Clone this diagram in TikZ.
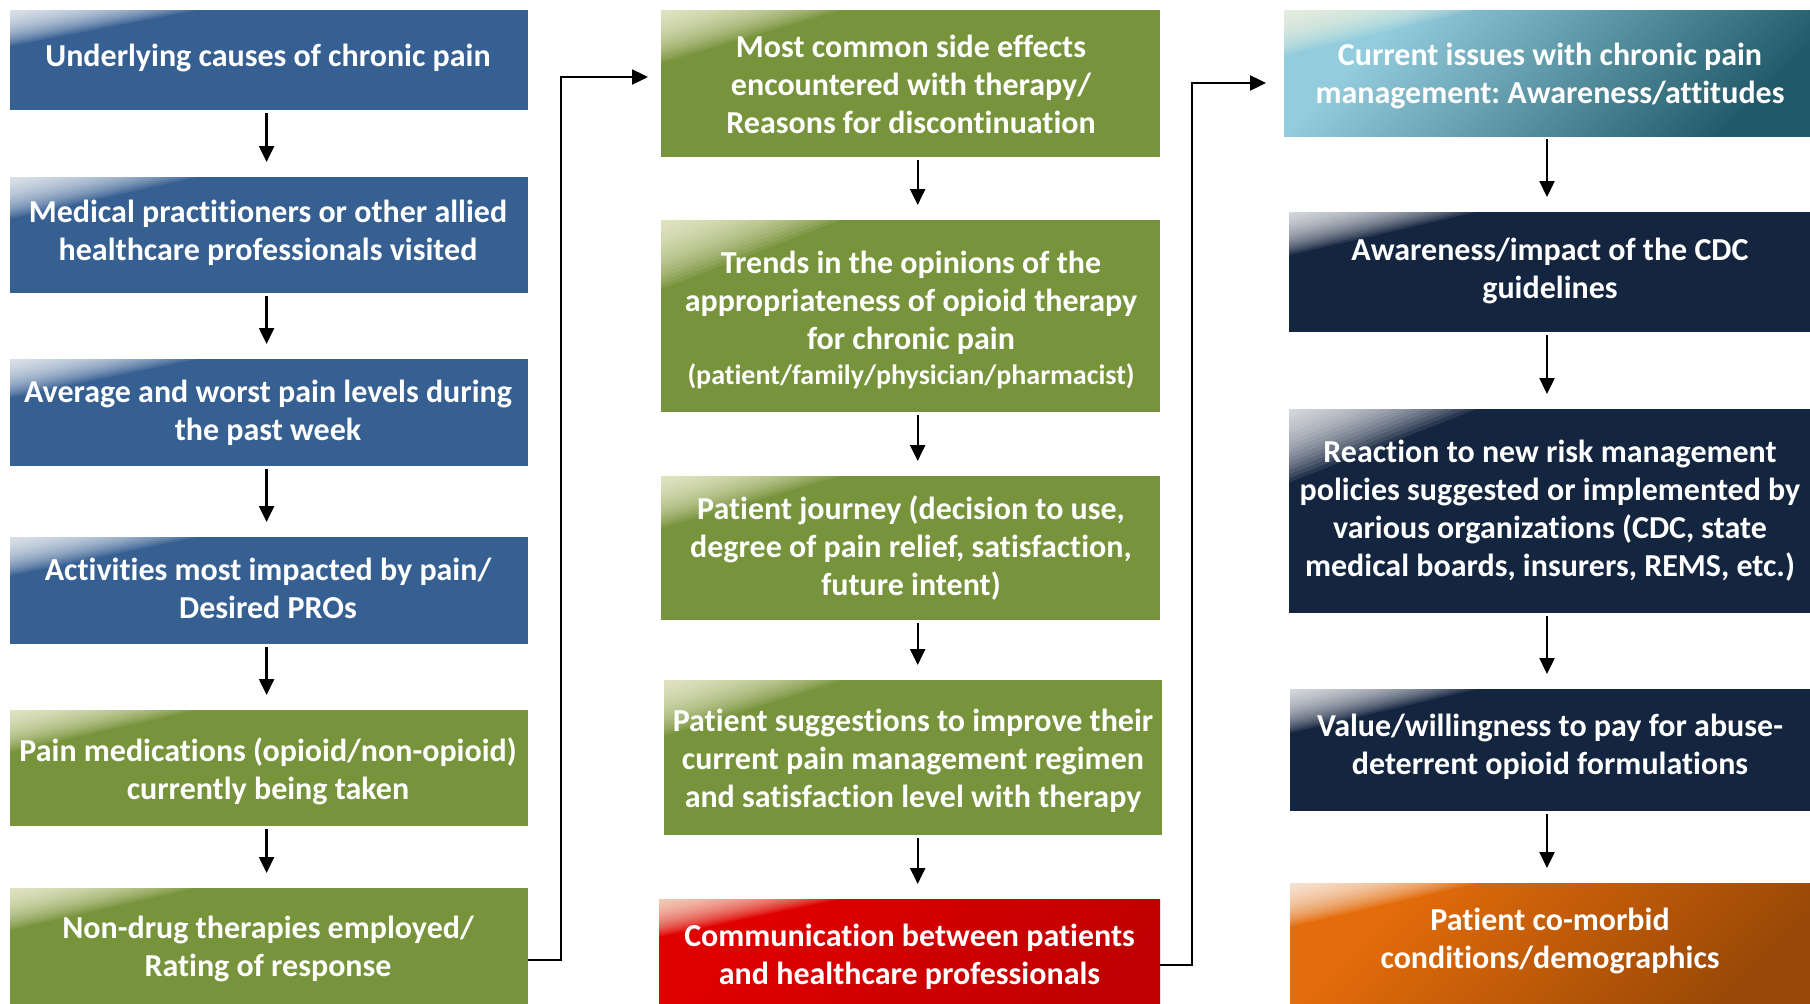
\documentclass[tikz,border=0pt]{standalone}
\usepackage{fontspec}
\setmainfont[Ligatures=NoCommon]{Carlito}
\frenchspacing
\usetikzlibrary{arrows.meta,calc}
\definecolor{cblue}{HTML}{376092}
\definecolor{cgreen}{HTML}{77933C}
\definecolor{cnavy}{HTML}{14253F}
\definecolor{cred}{HTML}{E00000}
\definecolor{credd}{HTML}{C00000}
\definecolor{corange}{HTML}{E46C0A}
\definecolor{corangedark}{HTML}{984807}
\definecolor{cteal}{HTML}{93CDDD}
\definecolor{ctealdark}{HTML}{215968}
\definecolor{ccream}{HTML}{FAF8E2}
\colorlet{ca}{cblue}\colorlet{cb}{cblue}
\pgfdeclarehorizontalshading[ca,cb]{grad}{100bp}{color(0bp)=(ca); color(28bp)=(ca); color(76bp)=(cb); color(100bp)=(cb)}
\tikzset{
  box/.style 2 args={/utils/exec={\colorlet{ca}{#1}\colorlet{cb}{#2}},
    shade, shading=grad, shading angle=-45, rectangle, inner sep=0pt, outer sep=0pt, draw=none},
  flatbox/.style={fill=#1, rectangle, inner sep=0pt, outer sep=0pt, draw=none},
  bluebox/.style={flatbox=cblue},
  greenbox/.style={flatbox=cgreen},
  navybox/.style={flatbox=cnavy},
  redbox/.style={box={cred}{credd}},
  orangebox/.style={box={corange}{corangedark}},
  tealbox/.style={box={cteal}{ctealdark}},
  txt/.style={text=white, font=\fontsize{32}{38}\selectfont\bfseries, align=center, inner sep=0pt},
  arr/.style={line width=2.4pt, -{Triangle[length=16pt,width=15pt]}},
}
% corner shine: nested triangles in the top-left corner of a box node
\newcommand\shine[2]{%
  \foreach \s in {0.02,0.04,...,0.37}
    \fill[#2, fill opacity=0.095] (#1.north west) -- ($(#1.north west)!\s!(#1.north east)$) -- ($(#1.north west)!\s!(#1.south west)$) -- cycle;}
\begin{document}
\begin{tikzpicture}[x=1pt,y=-1pt]
\useasboundingbox (0,0) rectangle (1810,1004);
% column 1
\node[bluebox, minimum width=518pt, minimum height=100pt] (b1) at (269,60) {};
\node[bluebox, minimum width=518pt, minimum height=116pt] (b2) at (269,235) {};
\node[bluebox, minimum width=518pt, minimum height=107pt] (b3) at (269,412.5) {};
\node[bluebox, minimum width=518pt, minimum height=107pt] (b4) at (269,590.5) {};
\node[greenbox, minimum width=518pt, minimum height=116pt] (b5) at (269,768) {};
\node[greenbox, minimum width=518pt, minimum height=116pt] (b6) at (269,946) {};
% column 2
\node[greenbox, minimum width=499pt, minimum height=147pt] (c1) at (910.5,83.5) {};
\node[greenbox, minimum width=499pt, minimum height=192pt] (c2) at (910.5,316) {};
\node[greenbox, minimum width=499pt, minimum height=144pt] (c3) at (910.5,548) {};
\node[greenbox, minimum width=498pt, minimum height=155pt] (c4) at (913,757.5) {};
\node[redbox, minimum width=501pt, minimum height=105pt] (c5) at (909.5,951.5) {};
% column 3
\node[tealbox, minimum width=526pt, minimum height=126pt] (d1) at (1547,73) {};
\node[navybox, minimum width=521pt, minimum height=120pt] (d2) at (1549.5,272) {};
\node[navybox, minimum width=521pt, minimum height=204pt] (d3) at (1549.5,511) {};
\node[navybox, minimum width=520pt, minimum height=122pt] (d4) at (1550,750) {};
\node[orangebox, minimum width=520pt, minimum height=121pt] (d5) at (1550,943.5) {};
% shine
\foreach \n in {b1,b2,b3,b4,d2,d3,d4,d5} {\shine{\n}{white}}
\foreach \n in {b5,b6,c1,c2,c3,c4,c5,d1} {\shine{\n}{ccream}}
% texts
\node[txt] (b1t) at (268,59) {\strut Underlying causes of chronic pain\strut};
\node[txt] (b2t) at (268,234) {\strut Medical practitioners or other allied\\healthcare professionals visited\strut};
\node[txt] (b3t) at (268,414) {\strut Average and worst pain levels during\\the past week\strut};
\node[txt] (b4t) at (268,592) {\strut Activities most impacted by pain/\\Desired PROs\strut};
\node[txt] (b5t) at (268,772.5) {\strut Pain medications (opioid/non-opioid)\\currently being taken\strut};
\node[txt] (b6t) at (268,950) {\strut Non-drug therapies employed/\\Rating of response\strut};
\node[txt] (c1t) at (911,88) {\strut Most common side effects\\encountered with therapy/\\Reasons for discontinuation\strut};
\node[txt] (c2t) at (911,321) {\strut Trends in the opinions of the\\appropriateness of opioid therapy\\for chronic pain\\[-3pt]{\fontsize{28}{34.5}\selectfont (patient/family/physician/pharmacist)\strut}};
\node[txt] (c3t) at (911,550) {\strut Patient journey (decision to use,\\degree of pain relief, satisfaction,\\future intent)\strut};
\node[txt] (c4t) at (913,761.5) {\strut Patient suggestions to improve their\\current pain management regimen\\and satisfaction level with therapy\strut};
\node[txt] (c5t) at (909.5,958) {\strut Communication between patients\\and healthcare professionals\strut};
\node[txt] (d1t) at (1550,76.5) {\strut Current issues with chronic pain\\management: Awareness/attitudes\strut};
\node[txt] (d2t) at (1550,272) {\strut Awareness/impact of the CDC\\guidelines\strut};
\node[txt] (d3t) at (1550,512) {\strut Reaction to new risk management\\policies suggested or implemented by\\various organizations (CDC, state\\medical boards, insurers, REMS, etc.)\strut};
\node[txt] (d4t) at (1550,747.5) {\strut Value/willingness to pay for abuse-\\deterrent opioid formulations\strut};
\node[txt] (d5t) at (1550,942) {\strut Patient co-morbid\\conditions/demographics\strut};
% arrow columns
\coordinate (ax1) at (266.6,0);
\coordinate (ax2) at (917.7,0);
\coordinate (ax3) at (1547,0);
\foreach \p/\q in {b1/b2,b2/b3,b3/b4,b4/b5,b5/b6}
  \draw[arr] ($(\p.south -| ax1)+(0,3)$) -- ($(\q.north -| ax1)+(0,-15)$);
\foreach \p/\q in {c1/c2,c2/c3,c3/c4,c4/c5}
  \draw[arr] ($(\p.south -| ax2)+(0,3)$) -- ($(\q.north -| ax2)+(0,-15)$);
\foreach \p/\q in {d1/d2,d2/d3,d3/d4,d4/d5}
  \draw[arr] ($(\p.south -| ax3)+(0,3)$) -- ($(\q.north -| ax3)+(0,-15)$);
% elbow connectors
\coordinate (e1) at (561,77);
\coordinate (e2) at (1192,83);
\draw[arr] ($(b6.east)+(0,14)$) -| (e1) -- ($(c1.west)+(-13,-6.5)$);
\draw[arr] ($(c5.east)+(0,13.5)$) -| (e2) -- ($(d1.west)+(-18,10)$);
\end{tikzpicture}
\end{document}
